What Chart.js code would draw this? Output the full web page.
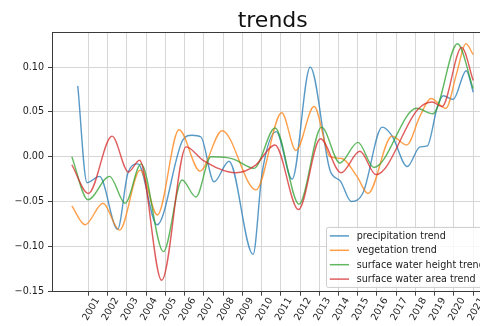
<!DOCTYPE html>
<html>
<head>
<meta charset="utf-8">
<title>trends</title>
<script src="https://cdn.jsdelivr.net/npm/chart.js@4.4.1/dist/chart.umd.min.js"></script>
<style>
  html, body { margin: 0; padding: 0; overflow: hidden; background: #ffffff; }
  canvas { display: block; }
</style>
</head>
<body>
<canvas id="trends" width="500" height="326"></canvas>
<script>
// Tick positions
const yearTicks = [2001, 2002, 2003, 2004, 2005, 2006, 2007, 2008, 2009, 2010, 2011,
                   2012, 2013, 2014, 2015, 2016, 2017, 2018, 2019, 2020, 2021];
const valueTicks = [-0.15, -0.10, -0.05, 0.00, 0.05, 0.10];

// Series labels
const seriesLabels = ['precipitation trend', 'vegetation trend',
                      'surface water height trend', 'surface water area trend'];

// precipitation trend
const precipitationYears = [2000.45, 2000.93, 2001.58, 2002.52, 2003.06, 2003.58, 2004.57, 2005.92,
                            2006.39, 2006.85, 2007.53, 2008.31, 2009.56, 2010.03, 2010.76, 2011.59,
                            2012.53, 2013.57, 2014.09, 2014.66, 2015.28, 2016.27, 2016.79, 2017.57,
                            2018.24, 2018.61, 2019.13, 2019.44, 2019.96, 2020.64, 2021.00];
const precipitationTrend = [0.079, -0.029, -0.022, -0.081, -0.018, -0.008, -0.076, 0.019,
                            0.024, 0.022, -0.028, -0.005, -0.109, -0.018, 0.028, -0.025,
                            0.100, -0.016, -0.027, -0.050, -0.040, 0.033, 0.023, -0.011,
                            0.011, 0.012, 0.055, 0.068, 0.064, 0.096, 0.072];

// vegetation trend
const vegetationYears = [2000.14, 2000.83, 2001.76, 2002.62, 2003.69, 2004.59, 2005.71, 2006.80,
                         2007.95, 2009.71, 2011.05, 2011.79, 2012.73, 2013.56, 2014.18, 2014.96,
                         2015.53, 2016.78, 2017.54, 2018.23, 2018.80, 2019.58, 2020.14, 2020.62,
                         2021.00];
const vegetationTrend = [-0.055, -0.076, -0.052, -0.082, -0.015, -0.065, 0.030, -0.016,
                         0.029, -0.037, 0.049, 0.007, 0.056, 0.000, -0.002, -0.022,
                         -0.041, 0.023, 0.013, 0.045, 0.065, 0.054, 0.093, 0.126,
                         0.114];

// surface water height trend
const waterHeightYears = [2000.14, 2000.98, 2002.10, 2002.91, 2003.74, 2004.90, 2005.87, 2006.59,
                          2007.37, 2008.21, 2008.58, 2009.61, 2010.70, 2011.95, 2013.12, 2014.07,
                          2015.01, 2015.84, 2018.06, 2018.91, 2020.18, 2021.00];
const waterHeightTrend = [0.000, -0.048, -0.022, -0.052, -0.008, -0.106, -0.026, -0.045,
                          0.000, -0.001, -0.003, -0.013, 0.032, -0.053, 0.033, -0.007,
                          0.016, -0.012, 0.054, 0.048, 0.126, 0.076];

// surface water area trend
const waterAreaYears = [2000.14, 2001.00, 2002.23, 2003.08, 2003.66, 2004.81, 2006.08, 2006.96,
                        2008.67, 2009.66, 2010.70, 2011.92, 2013.06, 2014.13, 2015.11, 2015.95,
                        2018.13, 2018.86, 2019.38, 2020.40, 2021.00];
const waterAreaTrend = [-0.009, -0.041, 0.023, -0.017, -0.004, -0.138, 0.011, -0.004,
                        -0.018, -0.010, 0.013, -0.059, 0.020, -0.018, 0.006, -0.020,
                        0.053, 0.061, 0.056, 0.122, 0.085];

const seriesColors = ['rgba(31,119,180,0.75)', 'rgba(255,127,14,0.75)',
                      'rgba(44,160,44,0.75)', 'rgba(214,39,40,0.75)'];

const FONT = '"DejaVu Sans", "Liberation Sans", sans-serif';

function toPoints(xs, ys) {
  return xs.map((x, i) => ({ x: x, y: ys[i] }));
}

const seriesData = [
  toPoints(precipitationYears, precipitationTrend),
  toPoints(vegetationYears, vegetationTrend),
  toPoints(waterHeightYears, waterHeightTrend),
  toPoints(waterAreaYears, waterAreaTrend)
];

const datasets = seriesData.map((pts, i) => ({
  label: seriesLabels[i],
  data: pts,
  borderColor: seriesColors[i],
  backgroundColor: seriesColors[i],
  borderWidth: 1.4,
  pointRadius: 0,
  fill: false,
  cubicInterpolationMode: 'monotone',
  order: seriesData.length - i
}));

function fmtValue(v) {
  const r = Math.round(v * 100) / 100;
  if (Math.abs(r) < 1e-9) return '0.00';
  return (r < 0 ? '\u2212' : '') + Math.abs(r).toFixed(2);
}

// Axes frame, title and an in-axes legend (lower right)
const decorations = {
  id: 'decorations',
  afterDatasetsDraw(chart) {
    const { ctx, chartArea: a } = chart;
    ctx.save();
    // frame
    ctx.strokeStyle = '#3a3a3a';
    ctx.lineWidth = 1;
    ctx.strokeRect(Math.round(a.left) + 0.5, Math.round(a.top) + 0.5,
                   Math.round(a.right - a.left) - 1, Math.round(a.bottom - a.top) - 1);

    // legend
    const fs = 9.6;
    ctx.font = fs + 'px ' + FONT;
    const items = chart.data.datasets;
    let textW = 0;
    items.forEach(d => { textW = Math.max(textW, ctx.measureText(d.label).width); });
    const pad = 0.4 * fs, handle = 2 * fs, gap = 0.8 * fs, axPad = 0.5 * fs, step = 14.4;
    const w = pad * 2 + handle + gap + textW;
    const h = 60;
    const right = a.right - axPad;
    const bottom = a.bottom - axPad;
    const left = right - w;
    const top = bottom - h;
    ctx.beginPath();
    if (ctx.roundRect) ctx.roundRect(left + 0.5, top + 0.5, w, h, 2);
    else ctx.rect(left + 0.5, top + 0.5, w, h);
    ctx.fillStyle = 'rgba(255,255,255,0.8)';
    ctx.fill();
    ctx.strokeStyle = '#cccccc';
    ctx.lineWidth = 1;
    ctx.stroke();
    ctx.textAlign = 'left';
    ctx.textBaseline = 'middle';
    items.forEach((d, i) => {
      const y = top + 9 + i * step;
      ctx.strokeStyle = d.borderColor;
      ctx.lineWidth = 1.5;
      ctx.beginPath();
      ctx.moveTo(left + pad, y);
      ctx.lineTo(left + pad + handle, y);
      ctx.stroke();
      ctx.fillStyle = '#222222';
      ctx.fillText(d.label, left + pad + handle + gap, y + 0.5);
    });

    // title centred over the axes
    ctx.font = '22px ' + FONT;
    ctx.fillStyle = '#111111';
    ctx.textAlign = 'center';
    ctx.textBaseline = 'alphabetic';
    ctx.fillText('trends', (a.left + a.right) / 2, 27);
    ctx.restore();
  }
};

new Chart(document.getElementById('trends'), {
  type: 'line',
  data: { datasets: datasets },
  options: {
    responsive: false,
    animation: false,
    events: [],
    layout: { padding: { top: 32, right: 6.6, left: 0, bottom: 0 } },
    plugins: {
      legend: { display: false },
      title: { display: false },
      tooltip: { enabled: false }
    },
    scales: {
      x: {
        type: 'linear',
        min: 1999.11,
        max: 2022.05,
        afterBuildTicks: scale => { scale.ticks = yearTicks.map(v => ({ value: v })); },
        afterFit: scale => { scale.height = 34.3; },
        grid: { color: '#d6d6d6', lineWidth: 1, drawTicks: true, tickLength: 4, tickColor: '#444444' },
        border: { display: false },
        ticks: {
          autoSkip: false,
          minRotation: 60,
          maxRotation: 60,
          padding: 0,
          labelOffset: 9,
          color: '#222222',
          font: { family: FONT, size: 9.6 },
          callback: v => String(v)
        }
      },
      y: {
        type: 'linear',
        min: -0.1507,
        max: 0.1392,
        afterBuildTicks: scale => { scale.ticks = valueTicks.map(v => ({ value: v })); },
        afterFit: scale => { scale.width = 52; },
        grid: { color: '#d6d6d6', lineWidth: 1, drawTicks: true, tickLength: 4, tickColor: '#444444' },
        border: { display: false },
        ticks: {
          padding: 4,
          color: '#222222',
          font: { family: FONT, size: 9.6 },
          callback: v => fmtValue(v)
        }
      }
    }
  },
  plugins: [decorations]
});
</script>
</body>
</html>
